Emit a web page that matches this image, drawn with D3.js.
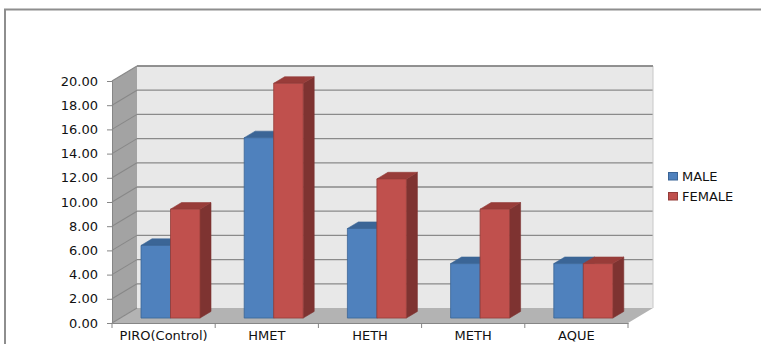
<!DOCTYPE html>
<html><head><meta charset="utf-8">
<script src="https://cdn.jsdelivr.net/npm/d3@7/dist/d3.min.js"></script>
<style>body{margin:0;background:#fff}svg{display:block}text{font-family:"DejaVu Sans",sans-serif}</style>
</head><body><svg id="c" width="761" height="344"></svg>
<script>
const categories = ["PIRO(Control)", "HMET", "HETH", "METH", "AQUE"];
const seriesNames = ["MALE", "FEMALE"];
const maleValues = [6.0, 14.9, 7.4, 4.5, 4.5];
const femaleValues = [9.0, 19.4, 11.5, 9.0, 4.5];
const yTicks = [0, 2, 4, 6, 8, 10, 12, 14, 16, 18, 20];

const colors = {
  MALE: {front: "#4f81bd", top: "#3b6596", side: "#345a88", edge: "#3a6496"},
  FEMALE: {front: "#c0504d", top: "#983c39", side: "#7e3331", edge: "#933c39"}
};
const series = [maleValues, femaleValues];

const svg = d3.select("#c");
const DX = 25, DY = -15;           // wall depth
const f1 = 0.33, f2 = 0.77;         // bar depth range
const x = d3.scaleBand().domain(categories).range([112, 628]);
const xs = d3.scaleBand().domain(seriesNames).range([20.75, 79.75]);
const y = d3.scaleLinear().domain([0, 20]).range([323, 81]);
const P = (px, py, f) => [px + DX * f, py + DY * f];
const poly = pts => "M" + pts.map(p => p.join(",")).join("L") + "Z";

// outer frame
svg.append("path").attr("d", "M5,345V9.5H761").attr("fill", "none").attr("stroke", "#8e8e8e").attr("stroke-width", 2);

const x0 = x.range()[0], x1 = x.range()[1];
// back wall
svg.append("path").attr("d", poly([P(x0, y(20), 1), P(x1, y(20), 1), P(x1, y(0), 1), P(x0, y(0), 1)]))
  .attr("fill", "#e8e8e8");
// side wall
svg.append("path").attr("d", poly([[x0, y(20)], P(x0, y(20), 1), P(x0, y(0), 1), [x0, y(0)]]))
  .attr("fill", "#a3a3a3");
// floor
svg.append("path").attr("d", poly([[x0, y(0)], P(x0, y(0), 1), P(x1, y(0), 1), [x1, y(0)]]))
  .attr("fill", "#b3b3b3");

// gridlines
const g = svg.append("g");
yTicks.forEach(t => {
  if (t > 0) {
    const a = P(x0, y(t), 1), b = P(x1, y(t), 1);
    g.append("line").attr("x1", a[0]).attr("y1", a[1]).attr("x2", b[0]).attr("y2", b[1])
      .attr("stroke", "#8a8a8a").attr("stroke-width", 1.3);
  }
  const c = P(x0, y(t), 1);
  g.append("line").attr("x1", x0).attr("y1", y(t)).attr("x2", c[0]).attr("y2", c[1])
    .attr("stroke", "#888").attr("stroke-width", 1.1);
});
// back wall top/right edge
{
  const a = P(x1, y(20), 1), b = P(x1, y(0), 1);
  svg.append("line").attr("x1", a[0]).attr("y1", a[1]).attr("x2", b[0]).attr("y2", b[1]).attr("stroke", "#c8c8c8");
  const c = P(x0, y(20), 1);
  svg.append("line").attr("x1", c[0]).attr("y1", c[1]).attr("x2", a[0]).attr("y2", a[1]).attr("stroke", "#8a8a8a").attr("stroke-width", 1.3);
}

// bars
const bars = svg.append("g");
categories.forEach((cat, i) => {
  seriesNames.forEach((s, j) => {
    const v = series[j][i];
    const bl = x(cat) + xs(s), br = bl + xs.bandwidth();
    const yt = y(v), yb = y(0);
    const col = colors[s];
    const front = [P(bl, yt, f1), P(br, yt, f1), P(br, yb, f1), P(bl, yb, f1)];
    const top = [P(bl, yt, f1), P(bl, yt, f2), P(br, yt, f2), P(br, yt, f1)];
    const side = [P(br, yt, f1), P(br, yt, f2), P(br, yb, f2), P(br, yb, f1)];
    bars.append("path").attr("d", poly(side)).attr("fill", col.side).attr("stroke", col.side).attr("stroke-width", 0.6);
    bars.append("path").attr("d", poly(top)).attr("fill", col.top).attr("stroke", col.edge).attr("stroke-width", 0.6);
    bars.append("path").attr("d", poly(front)).attr("fill", col.front).attr("stroke", col.edge).attr("stroke-width", 0.8);
  });
});

// y axis
const yAxis = svg.append("g").attr("transform", `translate(${x0},0)`)
  .call(d3.axisLeft(y).tickValues(yTicks).tickFormat(d3.format(".2f")).tickSize(5).tickPadding(9));
yAxis.select(".domain").attr("stroke", "#868686");
yAxis.selectAll(".tick line").attr("stroke", "#868686");
yAxis.selectAll("text").attr("font-size", 13).attr("fill", "#111").attr("font-family", "DejaVu Sans");

// x axis
const xAxis = svg.append("g").attr("transform", `translate(0,${y(0)})`)
  .call(d3.axisBottom(x).tickSize(0).tickPadding(8));
xAxis.select(".domain").attr("stroke", "#868686");
xAxis.selectAll("text").attr("font-size", 13).attr("fill", "#111").attr("font-family", "DejaVu Sans");
const edges = categories.map(c => x(c) + x.bandwidth()).concat([x0]);
xAxis.selectAll(".edge").data(edges).join("line").attr("class", "edge")
  .attr("x1", d => d).attr("x2", d => d).attr("y1", 0).attr("y2", 5).attr("stroke", "#868686");

// legend
const lg = svg.append("g").attr("transform", "translate(668,172)");
seriesNames.forEach((s, j) => {
  lg.append("rect").attr("x", 0.5).attr("y", j * 20 + 0.5).attr("width", 9).attr("height", 7.5)
    .attr("fill", colors[s].front).attr("stroke", colors[s].edge);
  lg.append("text").attr("x", 14).attr("y", j * 20 + 4.5).attr("dominant-baseline", "central")
    .attr("font-size", 13).attr("fill", "#111").text(s);
});
</script></body></html>
